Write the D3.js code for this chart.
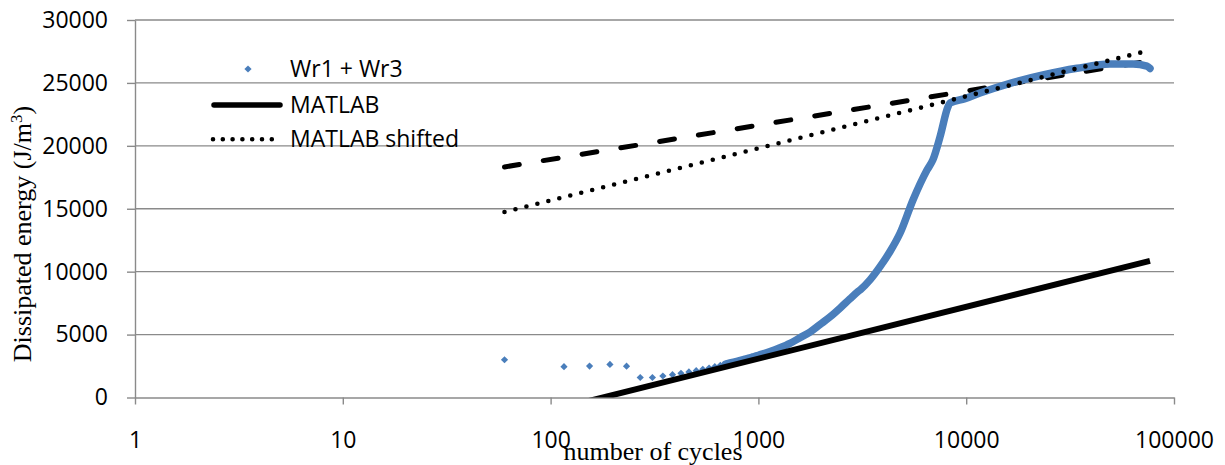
<!DOCTYPE html>
<html>
<head>
<meta charset="utf-8">
<script src="https://cdn.jsdelivr.net/npm/d3@7"></script>
<style>
body { margin: 0; background: #ffffff; }
svg { display: block; }
</style>
</head>
<body>
<svg></svg>
<script>
// values
// Wr1 + Wr3, separate markers (low cycle counts)
var wr_cycles = [60, 116, 154, 193, 232, 270, 309, 347, 386, 424, 463, 502, 540, 579, 617, 656, 695, 733, 772, 810, 849, 888, 926, 965, 1003];
var wr_energy = [3000, 2450, 2500, 2630, 2490, 1590, 1590, 1710, 1815, 1920, 2030, 2130, 2240, 2345, 2450, 2560, 2660, 2740, 2830, 2930, 3030, 3120, 3210, 3300, 3390];
// Wr1 + Wr3, where the markers merge into one thick band
var wr_band_cycles = [695, 810, 1018, 1137, 1270, 1419, 1586, 1772, 1980, 2211, 2470, 2760, 3030, 3110, 3444, 3849, 4300, 4802, 5546, 6478, 6920, 7478, 8173, 8356, 9870, 11650, 16250, 23420, 34130, 49200, 63490, 74130, 76640];
var wr_band_energy = [2660, 2930, 3400, 3650, 3950, 4300, 4750, 5200, 5800, 6400, 7100, 7850, 8450, 8600, 9350, 10400, 11600, 13050, 15700, 18080, 18900, 20700, 23100, 23400, 23750, 24200, 24970, 25630, 26160, 26500, 26500, 26340, 26150];

var matlab_cycles = [60, 76640];
var matlab_energy = [-1950, 10860];
var shifted_cycles = [60, 76640];
var shifted_energy = [14745, 27600];
var dashed_cycles = [60, 70000];
var dashed_energy = [18320, 26650];

var x_ticks = [1, 10, 100, 1000, 10000, 100000];
var y_ticks = [0, 5000, 10000, 15000, 20000, 25000, 30000];
var legend_labels = ["Wr1 + Wr3", "MATLAB", "MATLAB shifted"];

var w = 1225;
var h = 465;
var blue = "#4a7ebb";
var grid_color = "#8a8a8a";
var sans = "'Open Sans', 'Liberation Sans', sans-serif";
var serif = "'Liberation Serif', 'Times New Roman', serif";

var plot = { left: 135, right: 1174, top: 20, bottom: 397.5 };

var svg = d3.select("svg")
  .attr("width", w)
  .attr("height", h);

var x = d3.scaleLog()
  .domain([1, 100000])
  .range([plot.left, plot.right]);

var y = d3.scaleLinear()
  .domain([0, 30000])
  .range([plot.bottom, plot.top]);

function zip(a, b) {
  return a.map(function(d, i) { return [d, b[i]]; });
}

// gridlines
svg.append("g")
  .selectAll("line")
  .data(y_ticks.slice(1))
  .join("line")
  .attr("x1", plot.left)
  .attr("x2", plot.right)
  .attr("y1", function(d) { return y(d); })
  .attr("y2", function(d) { return y(d); })
  .attr("stroke", grid_color)
  .attr("stroke-width", 1.4);

// axes
var x_axis = svg.append("g")
  .attr("transform", "translate(0," + plot.bottom + ")")
  .call(d3.axisBottom(x)
    .tickValues(x_ticks)
    .tickFormat(d3.format("d"))
    .tickSize(7)
    .tickSizeOuter(0));

var y_axis = svg.append("g")
  .attr("transform", "translate(" + plot.left + ",0)")
  .call(d3.axisLeft(y)
    .tickValues(y_ticks)
    .tickFormat(d3.format("d"))
    .tickSize(8)
    .tickPadding(19)
    .tickSizeOuter(0));

[x_axis, y_axis].forEach(function(g) {
  g.selectAll("path, line")
    .attr("stroke", grid_color)
    .attr("stroke-width", 1.4);
  g.selectAll("text")
    .attr("fill", "#000")
    .style("font-family", sans)
    .style("font-size", "23px");
});

x_axis.selectAll("text")
  .attr("y", 50.5)
  .attr("dy", null);

// clip for the series
svg.append("clipPath")
  .attr("id", "plot_clip")
  .append("rect")
  .attr("x", plot.left)
  .attr("y", plot.top)
  .attr("width", plot.right - plot.left)
  .attr("height", plot.bottom - plot.top);

var series = svg.append("g").attr("clip-path", "url(#plot_clip)");

var line = d3.line()
  .x(function(d) { return x(d[0]); })
  .y(function(d) { return y(d[1]); });

var diamond = d3.symbol().type(d3.symbolSquare).size(26);

// dashed line (not in the legend), sits under the blue band
series.append("path")
  .datum(zip(dashed_cycles, dashed_energy))
  .attr("d", line)
  .attr("fill", "none")
  .attr("stroke", "#000")
  .attr("stroke-width", 5)
  .attr("stroke-linecap", "round")
  .attr("stroke-dasharray", "15,24.3");

// Wr1 + Wr3
series.append("path")
  .datum(zip(wr_band_cycles, wr_band_energy))
  .attr("d", line.curve(d3.curveMonotoneX))
  .attr("fill", "none")
  .attr("stroke", blue)
  .attr("stroke-width", 7.5)
  .attr("stroke-linejoin", "round")
  .attr("stroke-linecap", "round");

line.curve(d3.curveLinear);

series.append("g")
  .selectAll("path")
  .data(zip(wr_cycles, wr_energy))
  .join("path")
  .attr("d", diamond)
  .attr("transform", function(d) { return "translate(" + x(d[0]) + "," + y(d[1]) + ") rotate(45)"; })
  .attr("fill", blue);

// MATLAB
series.append("path")
  .datum(zip(matlab_cycles, matlab_energy))
  .attr("d", line)
  .attr("fill", "none")
  .attr("stroke", "#000")
  .attr("stroke-width", 6);

// MATLAB shifted
series.append("path")
  .datum(zip(shifted_cycles, shifted_energy))
  .attr("d", line)
  .attr("fill", "none")
  .attr("stroke", "#000")
  .attr("stroke-width", 4.6)
  .attr("stroke-linecap", "round")
  .attr("stroke-dasharray", "0,11.3");

// legend
var legend = svg.append("g");
var legend_y = [69, 105, 139.3];

legend.append("path")
  .attr("d", diamond)
  .attr("transform", "translate(248," + legend_y[0] + ") rotate(45)")
  .attr("fill", blue);

legend.append("line")
  .attr("x1", 214).attr("x2", 280)
  .attr("y1", legend_y[1]).attr("y2", legend_y[1])
  .attr("stroke", "#000")
  .attr("stroke-width", 5.5)
  .attr("stroke-linecap", "round");

legend.append("line")
  .attr("x1", 213).attr("x2", 273)
  .attr("y1", legend_y[2]).attr("y2", legend_y[2])
  .attr("stroke", "#000")
  .attr("stroke-width", 4.6)
  .attr("stroke-linecap", "round")
  .attr("stroke-dasharray", "0,9.8");

legend.selectAll("text")
  .data(legend_labels)
  .join("text")
  .attr("x", 290)
  .attr("y", function(d, i) { return legend_y[i] + 8; })
  .style("font-family", sans)
  .style("font-size", "23px")
  .text(function(d) { return d; });

// axis titles
svg.append("text")
  .attr("x", 653)
  .attr("y", 460)
  .attr("text-anchor", "middle")
  .style("font-family", serif)
  .style("font-size", "26px")
  .text("number of cycles");

var y_title = svg.append("text")
  .attr("transform", "translate(31,234) rotate(-90)")
  .attr("text-anchor", "middle")
  .style("font-family", serif)
  .style("font-size", "26px");
y_title.append("tspan").text("Dissipated energy (J/m");
y_title.append("tspan").attr("dy", -9).style("font-size", "17px").text("3");
y_title.append("tspan").attr("dy", 9).text(")");
</script>
</body>
</html>
